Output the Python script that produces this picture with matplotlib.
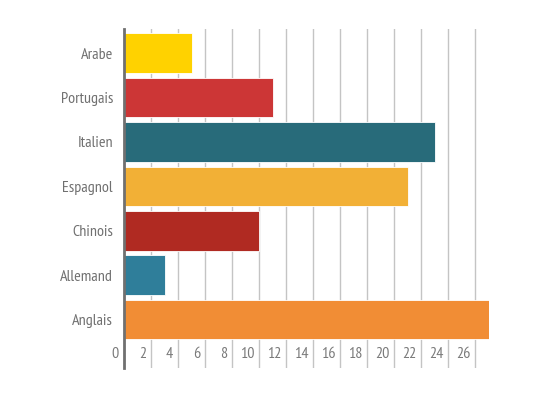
import matplotlib.pyplot as plt
import matplotlib.transforms as mtransforms
from matplotlib import font_manager

# data, bottom to top
languages = ['Anglais', 'Allemand', 'Chinois', 'Espagnol', 'Italien', 'Portugais', 'Arabe']
values = [27, 3, 10, 21, 23, 11, 5]
colors = ['#F18D35', '#2F7E9A', '#B02A22', '#F2B036', '#286B7A', '#CC3636', '#FFD200']
xticks = list(range(0, 27, 2))

# narrow font like the original, whichever is installed
names = {f.name for f in font_manager.fontManager.ttflist}
family = 'DejaVu Sans'
for cand in ['PT Sans Narrow', 'Roboto Condensed', 'Open Sans Condensed', 'Archivo Narrow',
             'Asap Condensed', 'Barlow Condensed']:
    if cand in names:
        family = cand
        break
plt.rcParams['font.family'] = [family, 'DejaVu Sans']

fig = plt.figure(figsize=(5.57, 3.95), dpi=100)
W, H = 557, 395
ax = fig.add_axes([124 / W, 1 - 368 / H, (489 - 124) / W, (368 - 29) / H])

ypos = list(range(len(languages)))
ax.barh(ypos, values, height=0.89, color=colors, edgecolor='white', linewidth=0.6, zorder=3)

ax.set_xlim(0, 27)
ax.set_ylim(-1.087, 6.54)
ax.set_yticks(ypos)
ax.set_yticklabels(languages)
ax.set_xticks(xticks)
ax.set_xticklabels([str(t) for t in xticks])

ax.grid(axis='x', color='#c4c4c4', linewidth=1, zorder=0)
ax.grid(axis='y', visible=False)
for s in ['top', 'right', 'bottom']:
    ax.spines[s].set_visible(False)
ax.spines['left'].set_color('#707070')
ax.spines['left'].set_linewidth(2)
ax.spines['left'].set_zorder(4)

ax.tick_params(axis='y', length=0, pad=8, labelsize=11.5, labelcolor='#707070')
ax.tick_params(axis='x', length=0, pad=-15, labelsize=11.5, labelcolor='#7a7a7a')

offset = mtransforms.ScaledTranslation(-5 / 100, 0, fig.dpi_scale_trans)
for lab in ax.get_xticklabels():
    lab.set_horizontalalignment('right')
    lab.set_transform(lab.get_transform() + offset)

fig.savefig('out.png', dpi=100)
